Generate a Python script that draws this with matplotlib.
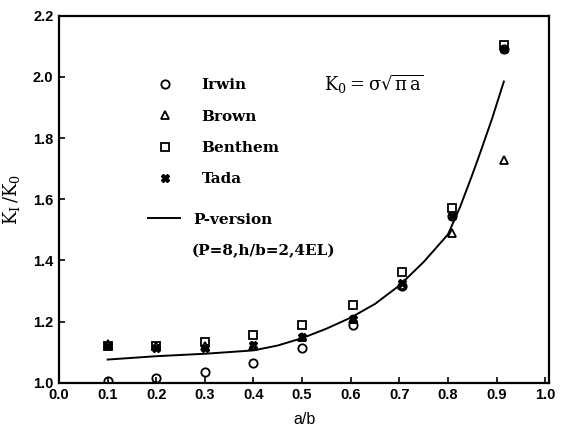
import numpy as np
import matplotlib
matplotlib.use('Agg')
import matplotlib.pyplot as plt
from matplotlib.lines import Line2D

plt.rcParams['font.family'] = ['DejaVu Serif']
plt.rcParams['mathtext.default'] = 'regular'

# data
ab = [0.1, 0.2, 0.3, 0.4, 0.5, 0.605, 0.705, 0.808, 0.915]
irwin = [1.005, 1.016, 1.034, 1.066, 1.115, 1.19, 1.316, 1.546, 2.09]
brown = [1.128, 1.12, 1.12, 1.12, 1.15, 1.21, 1.32, 1.49, 1.73]
benthem = [1.12, 1.12, 1.134, 1.157, 1.19, 1.253, 1.362, 1.571, 2.105]
tada = [1.12, 1.115, 1.115, 1.125, 1.15, 1.21, 1.325, 1.545, 2.09]

# P-version curve (P=8, h/b=2, 4EL)
pv_x = [0.1, 0.2, 0.3, 0.4, 0.45, 0.5, 0.55, 0.6, 0.65, 0.7, 0.75, 0.775, 0.8, 0.825,
        0.85, 0.867, 0.891, 0.915]
pv_y = [1.076, 1.087, 1.095, 1.106, 1.122, 1.146, 1.177, 1.213, 1.258, 1.318, 1.395, 1.44,
        1.485, 1.575, 1.68, 1.755, 1.865, 1.985]

xticks = np.arange(0, 1.01, 0.1)
yticks = np.arange(1.0, 2.21, 0.2)

fig = plt.figure(figsize=(5.62, 4.38), dpi=100)
ax = fig.add_axes([0.105, 0.126, 0.872, 0.838])

ms = 6
ax.plot(pv_x, pv_y, '-', color='black', lw=1.4)
ax.plot(ab, irwin, 'o', mfc='none', mec='black', mew=1.3, ms=ms)
ax.plot(ab, brown, '^', mfc='none', mec='black', mew=1.3, ms=ms)
ax.plot(ab, benthem, 's', mfc='none', mec='black', mew=1.3, ms=ms)
ax.plot(ab, tada, 'X', mfc='black', mec='black', ms=ms)

ax.set_xlim(0, 1.008)
ax.set_ylim(1.0, 2.2)
ax.set_xticks(xticks)
ax.set_yticks(yticks)
ax.set_xticklabels(['%.1f' % v for v in xticks], family='Liberation Sans', fontweight='bold', fontsize=10.5)
ax.set_yticklabels(['%.1f' % v for v in yticks], family='Liberation Sans', fontweight='bold', fontsize=10.5)
ax.tick_params(direction='in', length=4, width=1.2, pad=4)
for s in ax.spines.values():
    s.set_linewidth(1.6)

ax.set_xlabel('a/b', family='Liberation Sans', fontsize=11.5, labelpad=7)
ax.set_ylabel(r'$\mathregular{K_I\,/K_0}$', fontsize=13, labelpad=8)

handles = [
    Line2D([], [], ls='none', marker='o', mfc='none', mec='black', mew=1.3, ms=ms),
    Line2D([], [], ls='none', marker='^', mfc='none', mec='black', mew=1.3, ms=ms),
    Line2D([], [], ls='none', marker='s', mfc='none', mec='black', mew=1.3, ms=ms),
    Line2D([], [], ls='none', marker='X', mfc='black', mec='black', ms=ms),
]
leg1 = ax.legend(handles, ['Irwin', 'Brown', 'Benthem', 'Tada'], loc='upper left',
                 bbox_to_anchor=(0.165, 0.867), frameon=False,
                 labelspacing=1.13, handletextpad=1.65, handlelength=1.5,
                 prop={'family': 'DejaVu Serif', 'weight': 'bold', 'size': 11})
ax.add_artist(leg1)
ax.legend([Line2D([], [], color='black', lw=1.4)], ['P-version'], loc='upper left',
          bbox_to_anchor=(0.154, 0.501), frameon=False, handlelength=2.1,
          handletextpad=0.82, prop={'family': 'DejaVu Serif', 'weight': 'bold', 'size': 11})
ax.text(0.273, 1.431, '(P=8,h/b=2,4EL)', fontsize=11, fontweight='bold',
        va='center', ha='left')
ax.text(0.545, 1.975, r'$\mathregular{K_0 = \sigma\sqrt{\pi\, a}}$',
        fontsize=13, va='center', ha='left')

fig.savefig('out.png', dpi=100)
